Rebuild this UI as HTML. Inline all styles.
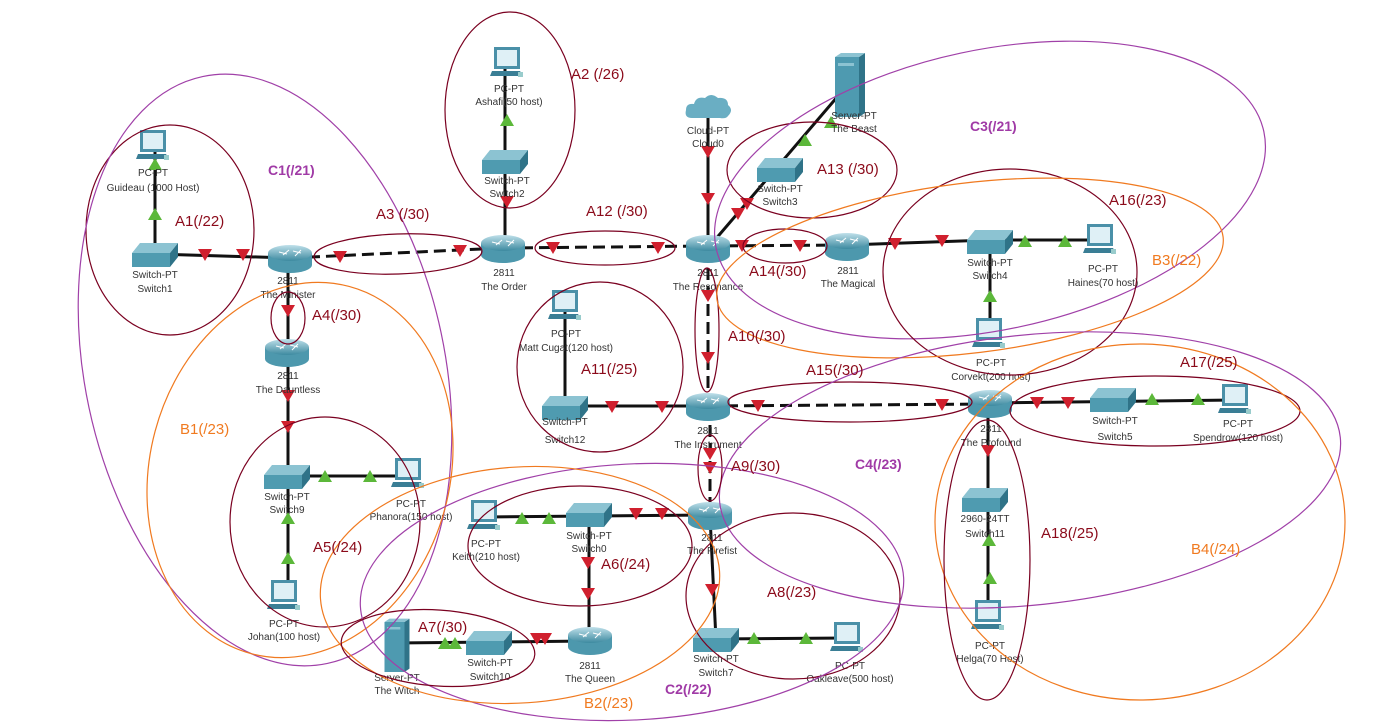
<!DOCTYPE html>
<html><head><meta charset="utf-8"><style>
html,body{margin:0;padding:0;background:#fff;}
svg{display:block;font-family:"Liberation Sans",sans-serif;}
.l{font-size:10px;fill:#333;text-anchor:middle;}
.a{font-size:15px;fill:#8b0a1a;}
.c{font-size:14px;fill:#a03aa6;font-weight:bold;}
.b{font-size:15px;fill:#f07a20;}
.ea{fill:none;stroke:#7a0020;stroke-width:1.2;}
.ec{fill:none;stroke:#a040a8;stroke-width:1.2;}
.eb{fill:none;stroke:#f07a20;stroke-width:1.2;}
.ln{stroke:#111;stroke-width:3;fill:none;}
.dl{stroke:#111;stroke-width:3;fill:none;stroke-dasharray:12 6;}
</style></head><body>
<svg width="1375" height="726" viewBox="0 0 1375 726" xmlns="http://www.w3.org/2000/svg">
<defs>
<linearGradient id="rg" x1="0" y1="0" x2="0" y2="1"><stop offset="0" stop-color="#bfe0ea"/><stop offset="1" stop-color="#3d8aa0"/></linearGradient>
<symbol id="router" viewBox="0 0 46 30" overflow="visible">
<path d="M1 9 V21 A22 8 0 0 0 45 21 V9 Z" fill="#4d98ad"/>
<ellipse cx="23" cy="9" rx="22" ry="8" fill="url(#rg)"/>
<path d="M12 8 L20 10 M26 7 L34 9 M16 11 L22 6 M28 12 L34 6" stroke="#fff" stroke-width="1"/>
</symbol>
<symbol id="switch" viewBox="0 0 46 26" overflow="visible">
<polygon points="8,0 46,0 38,10 0,10" fill="#8cc3d2"/>
<polygon points="0,10 38,10 38,24 0,24" fill="#4f9bb0"/>
<polygon points="38,10 46,0 46,14 38,24" fill="#2f7388"/>
</symbol>
<symbol id="pc" viewBox="0 0 34 34" overflow="visible">
<rect x="4" y="0" width="26" height="22" fill="#4a90a8"/>
<rect x="7" y="3" width="20" height="16" fill="#dff0f6"/>
<polygon points="2,24 30,24 33,29 0,29" fill="#3a7e95"/>
<rect x="28" y="25" width="5" height="5" fill="#9cc"/>
</symbol>
<symbol id="server" viewBox="0 0 30 60" overflow="visible">
<rect x="0" y="0" width="24" height="60" fill="#4e9ab0"/>
<polygon points="24,0 30,-4 30,56 24,60" fill="#2f7388"/>
<polygon points="0,0 6,-4 30,-4 24,0" fill="#8cc3d2"/>
<rect x="3" y="6" width="16" height="3" fill="#8cc3d2"/>
</symbol>
<symbol id="cloud" viewBox="0 0 48 26" overflow="visible">
<path d="M8 24 Q0 24 2 16 Q2 9 10 10 Q12 2 21 4 Q27 -2 34 4 Q44 3 44 11 Q50 16 44 22 Q42 25 36 24 Z" fill="#6aaec3"/>
</symbol>
<symbol id="rd" viewBox="0 0 14 12" overflow="visible"><polygon points="0,0 14,0 7,12" fill="#d0202e"/></symbol>
<symbol id="gu" viewBox="0 0 14 12" overflow="visible"><polygon points="0,12 14,12 7,0" fill="#5cb83a"/></symbol>
</defs>

<!-- connections -->
<line class="ln" x1="155" y1="150" x2="155" y2="254"/>
<line class="ln" x1="155" y1="254" x2="290" y2="258"/>
<line class="dl" x1="290" y1="258" x2="503" y2="248"/>
<line class="ln" x1="505" y1="62" x2="505" y2="248"/>
<line class="dl" x1="503" y1="248" x2="708" y2="246"/>
<line class="ln" x1="708" y1="112" x2="708" y2="248"/>
<line class="ln" x1="708" y1="248" x2="850" y2="82"/>
<line class="dl" x1="708" y1="246" x2="847" y2="245"/>
<line class="ln" x1="847" y1="245" x2="990" y2="240"/>
<line class="ln" x1="990" y1="240" x2="1100" y2="240"/>
<line class="ln" x1="990" y1="240" x2="990" y2="330"/>
<line class="ln" x1="288" y1="258" x2="288" y2="597"/>
<line class="ln" x1="288" y1="476" x2="408" y2="476"/>
<line class="dl" x1="708" y1="250" x2="708" y2="407"/>
<line class="ln" x1="565" y1="305" x2="565" y2="408"/>
<line class="ln" x1="565" y1="406" x2="708" y2="406"/>
<line class="dl" x1="708" y1="406" x2="990" y2="404"/>
<line class="ln" x1="990" y1="403" x2="1235" y2="400"/>
<line class="ln" x1="988" y1="404" x2="988" y2="617"/>
<line class="dl" x1="710" y1="407" x2="710" y2="515"/>
<line class="ln" x1="485" y1="517" x2="710" y2="515"/>
<line class="ln" x1="589" y1="515" x2="589" y2="640"/>
<line class="ln" x1="395" y1="643" x2="590" y2="641"/>
<line class="ln" x1="710" y1="516" x2="716" y2="640"/>
<line class="ln" x1="716" y1="639" x2="847" y2="638"/>

<!-- markers -->
<g>
<use href="#rd" x="198" y="249" width="14" height="12"/><use href="#rd" x="236" y="249" width="14" height="12"/>
<use href="#rd" x="281" y="305" width="14" height="12"/><use href="#rd" x="281" y="390" width="14" height="12"/><use href="#rd" x="281" y="421" width="14" height="12"/>
<use href="#rd" x="333" y="251" width="14" height="12"/><use href="#rd" x="453" y="245" width="14" height="12"/>
<use href="#rd" x="500" y="196" width="14" height="12"/>
<use href="#rd" x="546" y="242" width="14" height="12"/><use href="#rd" x="651" y="242" width="14" height="12"/>
<use href="#rd" x="701" y="146" width="14" height="12"/><use href="#rd" x="701" y="193" width="14" height="12"/>
<use href="#rd" x="731" y="208" width="14" height="12"/><use href="#rd" x="740" y="198" width="14" height="12"/>
<use href="#rd" x="735" y="240" width="14" height="12"/><use href="#rd" x="793" y="240" width="14" height="12"/>
<use href="#rd" x="888" y="238" width="14" height="12"/><use href="#rd" x="935" y="235" width="14" height="12"/>
<use href="#rd" x="701" y="290" width="14" height="12"/><use href="#rd" x="701" y="352" width="14" height="12"/>
<use href="#rd" x="605" y="401" width="14" height="12"/><use href="#rd" x="655" y="401" width="14" height="12"/>
<use href="#rd" x="751" y="400" width="14" height="12"/><use href="#rd" x="935" y="399" width="14" height="12"/>
<use href="#rd" x="1030" y="397" width="14" height="12"/><use href="#rd" x="1061" y="397" width="14" height="12"/>
<use href="#rd" x="981" y="445" width="14" height="12"/>
<use href="#rd" x="703" y="448" width="14" height="12"/><use href="#rd" x="703" y="462" width="14" height="12"/>
<use href="#rd" x="629" y="508" width="14" height="12"/><use href="#rd" x="655" y="508" width="14" height="12"/>
<use href="#rd" x="581" y="557" width="14" height="12"/><use href="#rd" x="581" y="588" width="14" height="12"/>
<use href="#rd" x="705" y="584" width="14" height="12"/>
<use href="#rd" x="530" y="633" width="14" height="12"/><use href="#rd" x="538" y="633" width="14" height="12"/>
<use href="#gu" x="148" y="208" width="14" height="12"/><use href="#gu" x="148" y="158" width="14" height="12"/>
<use href="#gu" x="500" y="114" width="14" height="12"/>
<use href="#gu" x="798" y="134" width="14" height="12"/><use href="#gu" x="824" y="116" width="14" height="12"/>
<use href="#gu" x="1018" y="235" width="14" height="12"/><use href="#gu" x="1058" y="235" width="14" height="12"/>
<use href="#gu" x="983" y="290" width="14" height="12"/>
<use href="#gu" x="318" y="470" width="14" height="12"/><use href="#gu" x="363" y="470" width="14" height="12"/>
<use href="#gu" x="281" y="512" width="14" height="12"/><use href="#gu" x="281" y="552" width="14" height="12"/>
<use href="#gu" x="515" y="512" width="14" height="12"/><use href="#gu" x="542" y="512" width="14" height="12"/>
<use href="#gu" x="1145" y="393" width="14" height="12"/><use href="#gu" x="1191" y="393" width="14" height="12"/>
<use href="#gu" x="982" y="534" width="14" height="12"/><use href="#gu" x="983" y="572" width="14" height="12"/>
<use href="#gu" x="747" y="632" width="14" height="12"/><use href="#gu" x="799" y="632" width="14" height="12"/>
<use href="#gu" x="438" y="637" width="14" height="12"/><use href="#gu" x="448" y="637" width="14" height="12"/>
</g>

<!-- devices -->
<use href="#pc" x="136" y="130" width="34" height="34"/>
<use href="#switch" x="132" y="243" width="46" height="26"/>
<use href="#router" x="267" y="244" width="46" height="30"/>
<use href="#router" x="480" y="234" width="46" height="30"/>
<use href="#switch" x="482" y="150" width="46" height="26"/>
<use href="#pc" x="490" y="47" width="34" height="34"/>
<use href="#router" x="685" y="234" width="46" height="30"/>
<use href="#cloud" x="684" y="94" width="48" height="26"/>
<use href="#switch" x="757" y="158" width="46" height="26"/>
<use href="#server" x="835" y="57" width="30" height="60"/>
<use href="#router" x="824" y="232" width="46" height="30"/>
<use href="#switch" x="967" y="230" width="46" height="26"/>
<use href="#pc" x="1083" y="224" width="34" height="34"/>
<use href="#pc" x="972" y="318" width="34" height="34"/>
<use href="#router" x="264" y="338" width="46" height="30"/>
<use href="#switch" x="264" y="465" width="46" height="26"/>
<use href="#pc" x="391" y="458" width="34" height="34"/>
<use href="#pc" x="267" y="580" width="34" height="34"/>
<use href="#pc" x="548" y="290" width="34" height="34"/>
<use href="#switch" x="542" y="396" width="46" height="26"/>
<use href="#router" x="685" y="392" width="46" height="30"/>
<use href="#router" x="967" y="389" width="46" height="30"/>
<use href="#switch" x="1090" y="388" width="46" height="26"/>
<use href="#pc" x="1218" y="384" width="34" height="34"/>
<use href="#switch" x="962" y="488" width="46" height="26"/>
<use href="#pc" x="971" y="600" width="34" height="34"/>
<use href="#switch" x="566" y="503" width="46" height="26"/>
<use href="#pc" x="467" y="500" width="34" height="34"/>
<use href="#router" x="687" y="501" width="46" height="30"/>
<use href="#router" x="567" y="626" width="46" height="30"/>
<use href="#switch" x="466" y="631" width="46" height="26"/>
<use href="#server" x="382" y="622" width="30" height="50"/>
<use href="#switch" x="693" y="628" width="46" height="26"/>
<use href="#pc" x="830" y="622" width="34" height="34"/>

<!-- device labels -->
<g class="l">
<text x="153" y="176">PC-PT</text><text x="153" y="191">Guideau (1000 Host)</text>
<text x="155" y="278">Switch-PT</text><text x="155" y="292">Switch1</text>
<text x="288" y="284">2811</text><text x="288" y="298">The Minister</text>
<text x="504" y="276">2811</text><text x="504" y="290">The Order</text>
<text x="507" y="184">Switch-PT</text><text x="507" y="197">Switch2</text>
<text x="509" y="92">PC-PT</text><text x="509" y="105">Ashafi(50 host)</text>
<text x="708" y="134">Cloud-PT</text><text x="708" y="147">Cloud0</text>
<text x="780" y="192">Switch-PT</text><text x="780" y="205">Switch3</text>
<text x="854" y="119">Server-PT</text><text x="854" y="132">The Beast</text>
<text x="708" y="276">2811</text><text x="708" y="290">The Resonance</text>
<text x="848" y="274">2811</text><text x="848" y="287">The Magical</text>
<text x="990" y="266">Switch-PT</text><text x="990" y="279">Switch4</text>
<text x="1103" y="272">PC-PT</text><text x="1103" y="286">Haines(70 host)</text>
<text x="991" y="366">PC-PT</text><text x="991" y="380">Corvekt(200 host)</text>
<text x="288" y="379">2811</text><text x="288" y="393">The Dauntless</text>
<text x="287" y="500">Switch-PT</text><text x="287" y="513">Switch9</text>
<text x="411" y="507">PC-PT</text><text x="411" y="520">Phanora(150 host)</text>
<text x="284" y="627">PC-PT</text><text x="284" y="640">Johan(100 host)</text>
<text x="566" y="337">PC-PT</text><text x="566" y="351">Matt Cugat(120 host)</text>
<text x="565" y="425">Switch-PT</text><text x="565" y="443">Switch12</text>
<text x="708" y="434">2811</text><text x="708" y="448">The Instrument</text>
<text x="991" y="432">2811</text><text x="991" y="446">The Profound</text>
<text x="1115" y="424">Switch-PT</text><text x="1115" y="440">Switch5</text>
<text x="1238" y="427">PC-PT</text><text x="1238" y="441">Spendrow(120 host)</text>
<text x="985" y="522">2960-24TT</text><text x="985" y="537">Switch11</text>
<text x="990" y="649">PC-PT</text><text x="990" y="662">Helga(70 Host)</text>
<text x="589" y="539">Switch-PT</text><text x="589" y="552">Switch0</text>
<text x="486" y="547">PC-PT</text><text x="486" y="560">Keith(210 host)</text>
<text x="712" y="541">2811</text><text x="712" y="554">The Firefist</text>
<text x="590" y="669">2811</text><text x="590" y="682">The Queen</text>
<text x="490" y="666">Switch-PT</text><text x="490" y="680">Switch10</text>
<text x="397" y="681">Server-PT</text><text x="397" y="694">The Witch</text>
<text x="716" y="662">Switch-PT</text><text x="716" y="676">Switch7</text>
<text x="850" y="669">PC-PT</text><text x="850" y="682">Oakleave(500 host)</text>
</g>

<!-- ellipses -->
<ellipse class="ea" cx="170" cy="230" rx="84" ry="105"/>
<ellipse class="ec" cx="265" cy="370" rx="180" ry="300" transform="rotate(-12 265 370)"/>
<ellipse class="ea" cx="510" cy="110" rx="65" ry="98"/>
<ellipse class="ea" cx="398" cy="254" rx="84" ry="20" transform="rotate(-2 398 254)"/>
<ellipse class="ea" cx="605" cy="248" rx="70" ry="17"/>
<ellipse class="ea" cx="288" cy="318" rx="17" ry="26"/>
<ellipse class="eb" cx="300" cy="470" rx="150" ry="190" transform="rotate(15 300 470)"/>
<ellipse class="ea" cx="325" cy="522" rx="95" ry="105"/>
<ellipse class="ea" cx="600" cy="367" rx="83" ry="85"/>
<ellipse class="ea" cx="707" cy="330" rx="12" ry="62"/>
<ellipse class="ea" cx="812" cy="170" rx="85" ry="48"/>
<ellipse class="ec" cx="990" cy="190" rx="280" ry="140" transform="rotate(-12 990 190)"/>
<ellipse class="ea" cx="785" cy="246" rx="42" ry="17"/>
<ellipse class="ea" cx="1010" cy="272" rx="127" ry="103"/>
<ellipse class="eb" cx="970" cy="268" rx="255" ry="85" transform="rotate(-7 970 268)"/>
<ellipse class="ea" cx="850" cy="402" rx="122" ry="20"/>
<ellipse class="ea" cx="1155" cy="411" rx="145" ry="35"/>
<ellipse class="ec" cx="1030" cy="470" rx="312" ry="135" transform="rotate(-6 1030 470)"/>
<ellipse class="eb" cx="1140" cy="522" rx="205" ry="178"/>
<ellipse class="ea" cx="987" cy="560" rx="43" ry="140"/>
<ellipse class="ea" cx="710" cy="468" rx="12" ry="33"/>
<ellipse class="ea" cx="580" cy="546" rx="112" ry="60"/>
<ellipse class="ea" cx="793" cy="596" rx="107" ry="83"/>
<ellipse class="ec" cx="632" cy="592" rx="272" ry="128" transform="rotate(-3 632 592)"/>
<ellipse class="eb" cx="520" cy="585" rx="200" ry="118" transform="rotate(-4 520 585)"/>
<ellipse class="ea" cx="438" cy="648" rx="97" ry="38" transform="rotate(4 438 648)"/>

<!-- region labels -->
<text class="a" x="175" y="226">A1(/22)</text>
<text class="a" x="571" y="79">A2 (/26)</text>
<text class="a" x="376" y="219">A3 (/30)</text>
<text class="a" x="312" y="320">A4(/30)</text>
<text class="a" x="313" y="552">A5(/24)</text>
<text class="a" x="601" y="569">A6(/24)</text>
<text class="a" x="418" y="632">A7(/30)</text>
<text class="a" x="767" y="597">A8(/23)</text>
<text class="a" x="731" y="471">A9(/30)</text>
<text class="a" x="728" y="341">A10(/30)</text>
<text class="a" x="581" y="374">A11(/25)</text>
<text class="a" x="586" y="216">A12 (/30)</text>
<text class="a" x="817" y="174">A13 (/30)</text>
<text class="a" x="749" y="276">A14(/30)</text>
<text class="a" x="806" y="375">A15(/30)</text>
<text class="a" x="1109" y="205">A16(/23)</text>
<text class="a" x="1180" y="367">A17(/25)</text>
<text class="a" x="1041" y="538">A18(/25)</text>
<text class="c" x="268" y="175">C1(/21)</text>
<text class="c" x="665" y="694">C2(/22)</text>
<text class="c" x="970" y="131">C3(/21)</text>
<text class="c" x="855" y="469">C4(/23)</text>
<text class="b" x="180" y="434">B1(/23)</text>
<text class="b" x="584" y="708">B2(/23)</text>
<text class="b" x="1152" y="265">B3(/22)</text>
<text class="b" x="1191" y="554">B4(/24)</text>
</svg>
</body></html>
